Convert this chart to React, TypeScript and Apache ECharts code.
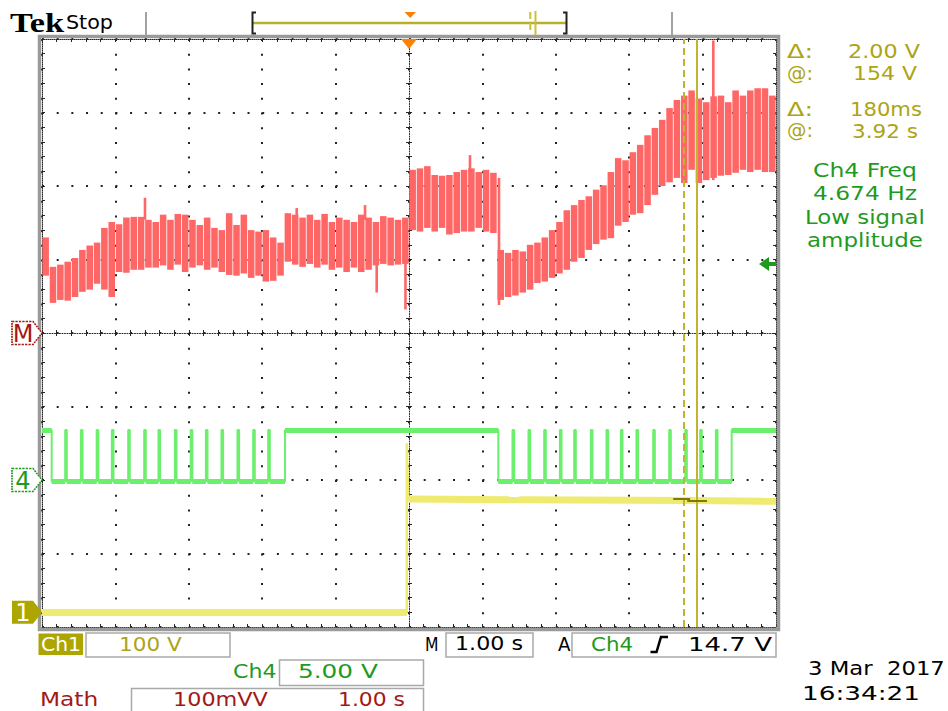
import React, { useEffect, useRef } from "react";
import * as echarts from "echarts";

// ---- acquisition settings ----
const TIME_MIN = -5; // s, 10 div x 1.00 s, trigger at 0
const TIME_MAX = 5;

// Math trace: min/max envelope per 0.1 s bin (100 mVV/div, ground at centre)
const MATH_BIN = 0.1;
const mathTop = [
  130, 90, 93, 97, 102, 113, 119, 123, 143, 151,
  148, 157, 158, 158, 154, 151, 161, 154, 162, 161,
  154, 147, 157, 143, 140, 163, 147, 161, 140, 138,
  140, 130, 123, 163, 161, 157, 161, 154, 162, 151,
  157, 154, 151, 161, 157, 151, 159, 157, 154, 157,
  222, 224, 227, 215, 214, 215, 219, 222, 224, 219,
  222, 218, 113, 109, 113, 111, 120, 123, 130, 140,
  151, 167, 174, 181, 186, 195, 201, 219, 238, 235,
  246, 256, 269, 279, 290, 306, 317, 323, 330, 319,
  314, 322, 323, 314, 330, 323, 330, 333, 333, 323,
];
const mathBottom = [
  78, 41, 45, 44, 49, 56, 59, 67, 59, 49,
  83, 82, 86, 86, 89, 89, 92, 86, 93, 83,
  89, 92, 86, 89, 83, 79, 78, 81, 75, 78,
  70, 71, 78, 97, 93, 90, 94, 89, 93, 86,
  89, 83, 89, 83, 86, 92, 94, 92, 93, 94,
  140, 138, 143, 138, 143, 134, 136, 138, 138, 143,
  138, 136, 45, 49, 51, 55, 59, 68, 70, 75,
  81, 86, 97, 102, 113, 121, 127, 129, 146, 151,
  161, 163, 174, 188, 200, 205, 211, 204, 222, 204,
  208, 211, 214, 215, 218, 222, 219, 222, 219, 219,
];
// narrow glitches on the math trace: [time s, low, high]
const mathGlitches = [
  [-3.597, 154, 184],
  [-1.53, 151, 170],
  [-0.599, 154, 174],
  [-0.44, 55, 93],
  [-0.048, 32, 150],
  [0.831, 219, 242],
  [1.226, 38, 211],
  [4.146, 208, 398],
];

// Ch4 logic signal (5.00 V/div)
const CH4_LOW = -0.1;
const CH4_HIGH = 3.4;
const ch4HighRuns = [
  [-5, -4.868],
  [-1.689, 1.217],
  [4.396, 5],
];
const ch4PulseCenters = [
  -4.673, -4.459, -4.244, -4.037, -3.815, -3.597, -3.402, -3.178, -2.963, -2.756,
  -2.544, -2.326, -2.112, -1.907,
  1.421, 1.639, 1.853, 2.067, 2.262, 2.489, 2.702, 2.898, 3.11, 3.338,
  3.556, 3.774, 3.978, 4.192,
];
const CH4_PULSE_WIDTH = 0.022;
const CH4_TRIGGER_LEVEL = 14.7; // V

// Ch1 (100 V/div)
const ch1Times = [-5, -0.03, -0.03, -0.01, 1.5, 3.9, 5];
const ch1Volts = [0, 0, 230, 154, 153, 152, 151];

// cursors
const cursorTimes = [3.74, 3.92]; // s, delta 180 ms
const cursorVolts = [154, 152]; // V, delta 2.00 V

// ---- screen layout ----
const GRID = { left: 42, top: 39, width: 734, height: 588 };
const DIV_X = GRID.width / 10;
const DIV_Y = GRID.height / 8;

const SANS = '"DejaVu Sans", sans-serif';
const F19 = `19px ${SANS}`;
const RED = "#ff6666";
const GREEN = "#6cef6c";
const YELLOW = "#efea70";
const CURSOR = "#bfb52e";
const OLIVE_TXT = "#ada415";
const GREEN_TXT = "#1f9a1f";
const MATH_TXT = "#a31818";
const CH1_FILL = "#ada600";
const BOX = "#a9a9a9";
const INK = "#262626";

let measureCtx: CanvasRenderingContext2D | null = null;
function textWidth(text: string, font: string) {
  if (!measureCtx) measureCtx = document.createElement("canvas").getContext("2d");
  if (!measureCtx) return text.length * 10;
  measureCtx.font = font;
  return measureCtx.measureText(text).width || 1;
}

// text stretched horizontally to span [left, right]
function fitText(text: string, left: number, right: number, cy: number, fill: string, font = F19) {
  const w = textWidth(text, font);
  return {
    type: "text",
    x: left,
    y: cy,
    scaleX: (right - left) / w,
    silent: true,
    z: 20,
    style: { text, fill, font, align: "left", verticalAlign: "middle" },
  };
}

function box(x: number, y: number, w: number, h: number) {
  return {
    type: "rect",
    silent: true,
    z: 19,
    shape: { x, y, width: w, height: h },
    style: { fill: "none", stroke: BOX, lineWidth: 1.5 },
  };
}

function vline(x: number, y1: number, y2: number, stroke: string, lineWidth = 2, lineDash?: number[]) {
  return {
    type: "line",
    silent: true,
    z: 19,
    shape: { x1: x, y1, x2: x, y2 },
    style: { stroke, lineWidth, lineDash },
  };
}

// square-wave polyline from the high intervals of Ch4
function buildCh4(): number[][] {
  const runs = [
    ...ch4HighRuns,
    ...ch4PulseCenters.map((c) => [c - CH4_PULSE_WIDTH / 2, c + CH4_PULSE_WIDTH / 2]),
  ].sort((a, b) => a[0] - b[0]);
  const pts: number[][] = [];
  let t = TIME_MIN;
  for (const [a, b] of runs) {
    if (a > t) {
      pts.push([t, CH4_LOW], [a, CH4_LOW]);
    }
    pts.push([a, CH4_HIGH], [b, CH4_HIGH]);
    if (b < TIME_MAX) pts.push([b, CH4_LOW]);
    t = b;
  }
  if (t < TIME_MAX) pts.push([t, CH4_LOW], [TIME_MAX, CH4_LOW]);
  return pts;
}

// the settled parts of a trace carry visible noise, drawn as a wider band
function flatRuns(points: number[][], minDur: number) {
  const segs: { coords: number[][] }[] = [];
  for (let i = 1; i < points.length; i++) {
    const [t0, v0] = points[i - 1];
    const [t1, v1] = points[i];
    if (t1 - t0 > minDur) segs.push({ coords: [[t0, v0], [t1, v1]] });
  }
  return segs;
}

function tag(text: string, color: string, filled: boolean) {
  return {
    coord: [TIME_MIN, 0],
    symbol: "path://M0,0 L21,0 L30,11.5 L21,23 L0,23 Z",
    symbolSize: [30, 23],
    symbolOffset: [-15, 0],
    itemStyle: {
      color: filled ? color : "#fff",
      borderColor: color,
      borderWidth: filled ? 0 : 1.5,
      borderType: [2, 1],
    },
    label: {
      show: true,
      position: "inside",
      formatter: text,
      color: filled ? "#fff" : color,
      fontSize: 24,
      fontFamily: SANS,
      offset: [-4, 1],
    },
  };
}

function timeAxis(position: string, inside: boolean, opts: any = {}) {
  return {
    type: "value",
    min: TIME_MIN,
    max: TIME_MAX,
    interval: 1,
    position,
    axisLine: {
      show: true,
      onZero: false,
      lineStyle: { color: INK, width: 1, type: [1, 1] },
    },
    axisTick: { show: true, inside, length: 3, lineStyle: { color: INK, width: 1 } },
    minorTick: { show: true, splitNumber: 5, length: 3, lineStyle: { color: INK, width: 1 } },
    axisLabel: { show: false },
    splitLine: { show: false },
    ...opts,
  };
}

function divAxis(position: string, inside: boolean, opts: any = {}) {
  return {
    type: "value",
    min: -4,
    max: 4,
    interval: 1,
    position,
    axisLine: {
      show: true,
      onZero: false,
      lineStyle: { color: INK, width: 1, type: [1, 1] },
    },
    axisTick: { show: true, inside, length: 3, lineStyle: { color: INK, width: 1 } },
    minorTick: { show: true, splitNumber: 5, length: 3, lineStyle: { color: INK, width: 1 } },
    axisLabel: { show: false },
    splitLine: { show: false },
    ...opts,
  };
}

function buildOption() {
  const mathData = mathTop.map((top, i) => [TIME_MIN + MATH_BIN * (i + 0.5), mathBottom[i], top]);
  const ch4Points = buildCh4();
  const ch1Points = ch1Times.map((t, i) => [t, ch1Volts[i]]);

  const dotAlongX = [2, DIV_X / 5 - 2];
  const dotAlongY = [2, DIV_Y / 5 - 2];

  const graphic: any[] = [
    // graticule frame
    {
      type: "rect",
      silent: true,
      z: 1,
      shape: { x: GRID.left - 2.5, y: GRID.top - 2.5, width: GRID.width + 5, height: GRID.height + 5 },
      style: { fill: "none", stroke: "#9a9a9a", lineWidth: 3.5 },
    },
    // header
    fitText("Tek", 10, 64, 22.5, "#000", `bold 28px "Liberation Serif", serif`),
    fitText("Stop", 66, 113, 22.5, "#000", `20px ${SANS}`),
    vline(146, 12, 35, "#a2a2a2", 2),
    vline(672, 12, 35, "#a2a2a2", 2),
    // record view bar
    {
      type: "line",
      silent: true,
      z: 19,
      shape: { x1: 253, y1: 23, x2: 566, y2: 23 },
      style: { stroke: "#b8b02a", lineWidth: 2.5 },
    },
    {
      type: "polyline",
      silent: true,
      z: 20,
      shape: { points: [[256, 12.5], [252.5, 12.5], [252.5, 33.5], [256, 33.5]] },
      style: { stroke: "#222", lineWidth: 2, fill: "none" },
    },
    {
      type: "polyline",
      silent: true,
      z: 20,
      shape: { points: [[563, 12.5], [566.5, 12.5], [566.5, 33.5], [563, 33.5]] },
      style: { stroke: "#222", lineWidth: 2, fill: "none" },
    },
    {
      type: "polygon",
      silent: true,
      z: 20,
      shape: { points: [[404.5, 12], [416, 12], [410.2, 18]] },
      style: { fill: "#ff7f00" },
    },
    vline(530.3, 12, 34, "#c8c040", 2, [7, 4]),
    vline(535.5, 11, 35, "#c8c040", 2),
    // cursor / measurement readouts
    fitText("Δ:", 787, 813, 51.7, OLIVE_TXT),
    fitText("2.00 V", 848, 920, 51.7, OLIVE_TXT),
    fitText("@:", 787, 813, 73.3, OLIVE_TXT),
    fitText("154 V", 853, 917, 73.3, OLIVE_TXT),
    fitText("Δ:", 787, 813, 109.5, OLIVE_TXT),
    fitText("180ms", 850, 922, 109.5, OLIVE_TXT),
    fitText("@:", 787, 813, 131, OLIVE_TXT),
    fitText("3.92 s", 852, 918, 131, OLIVE_TXT),
    fitText("Ch4 Freq", 813, 917, 170.5, GREEN_TXT),
    fitText("4.674 Hz", 813, 917, 193.8, GREEN_TXT),
    fitText("Low signal", 805, 925, 217.2, GREEN_TXT),
    fitText("amplitude", 807, 923, 240.3, GREEN_TXT),
    // status line
    {
      type: "rect",
      silent: true,
      z: 19,
      shape: { x: 38.5, y: 633.5, width: 44.5, height: 21.5 },
      style: { fill: CH1_FILL },
    },
    fitText("Ch1", 41, 81, 644.5, "#fff"),
    box(86, 633, 144, 24),
    fitText("100 V", 119, 181.7, 644.5, OLIVE_TXT),
    fitText("M", 425, 438.5, 644, "#000"),
    box(446, 633, 87, 24),
    fitText("1.00 s", 455, 523, 644, "#000"),
    fitText("A", 558, 570.5, 644, "#000"),
    box(572, 633, 204, 24),
    fitText("Ch4", 591, 633, 644, GREEN_TXT),
    {
      type: "polyline",
      silent: true,
      z: 20,
      shape: { points: [[650.5, 652], [656.5, 652], [661, 637], [668, 637]] },
      style: { stroke: "#000", lineWidth: 2.5, fill: "none" },
    },
    fitText("14.7 V", 688, 772, 644, "#000"),
    fitText("Ch4", 233, 276.5, 671.5, GREEN_TXT),
    box(279.5, 660, 144, 25.5),
    fitText("5.00 V", 298, 378, 672, GREEN_TXT),
    fitText("Math", 40, 98.3, 699, MATH_TXT),
    box(131.5, 688.5, 292, 24),
    fitText("100mVV", 173, 268, 699.5, MATH_TXT),
    fitText("1.00 s", 338, 405, 699.5, MATH_TXT),
    fitText("3 Mar  2017", 808, 945, 668.3, "#000"),
    fitText("16:34:21", 802, 920, 693.3, "#000"),
  ];

  return {
    animation: false,
    backgroundColor: "#ffffff",
    grid: { ...GRID, containLabel: false, show: false },
    xAxis: [
      // 0: bottom border + vertical graticule lines
      timeAxis("bottom", true, {
        splitLine: { show: true, lineStyle: { color: "#222", width: 2, type: dotAlongY } },
      }),
      // 1: top border
      timeAxis("top", true),
      // 2, 3: horizontal centre line with ticks on both sides
      timeAxis("bottom", true, {
        axisLine: { show: true, onZero: true, onZeroAxisIndex: 0, lineStyle: { color: INK, width: 1, type: [1, 1.5] } },
      }),
      timeAxis("bottom", false, {
        axisLine: { show: false, onZero: true, onZeroAxisIndex: 0 },
      }),
    ],
    yAxis: [
      // 0: vertical centre line + horizontal graticule lines
      divAxis("left", true, {
        axisLine: { show: true, onZero: true, onZeroAxisIndex: 0, lineStyle: { color: INK, width: 1, type: [1, 1.5] } },
        splitLine: { show: true, lineStyle: { color: "#222", width: 2, type: dotAlongX } },
      }),
      // 1: other side of the centre ticks
      divAxis("left", false, { axisLine: { show: false, onZero: true, onZeroAxisIndex: 0 } }),
      // 2, 3: left and right borders
      divAxis("left", true),
      divAxis("right", true),
      // 4: Ch1, 100 V/div
      { type: "value", show: false, min: -20, max: 780 },
      // 5: Ch4, 5.00 V/div
      { type: "value", show: false, min: -10, max: 30 },
      // 6: Math, 100 mVV/div
      { type: "value", show: false, min: -400, max: 400 },
    ],
    graphic,
    series: [
      {
        name: "Math",
        type: "custom",
        xAxisIndex: 0,
        yAxisIndex: 6,
        clip: true,
        z: 3,
        silent: true,
        encode: { x: 0, y: [1, 2] },
        data: mathData,
        renderItem: (_params: any, api: any) => {
          const t = api.value(0);
          const lo = api.coord([t, api.value(1)]);
          const hi = api.coord([t, api.value(2)]);
          const w = api.size([MATH_BIN, 0])[0];
          return {
            type: "rect",
            shape: { x: lo[0] - w / 2 + 0.4, y: hi[1], width: Math.max(w - 0.8, 1), height: lo[1] - hi[1] },
            style: { fill: RED },
          };
        },
        markPoint: {
          silent: true,
          animation: false,
          data: [
            tag("M", MATH_TXT, false),
            {
              coord: [0, 400],
              symbol: "path://M0,0 L16,0 L8,10 Z",
              symbolSize: [16, 10],
              symbolOffset: [0, 5],
              itemStyle: { color: "#ff7f00" },
              label: { show: false },
            },
          ],
        },
      },
      {
        name: "Math glitches",
        type: "custom",
        xAxisIndex: 0,
        yAxisIndex: 6,
        clip: true,
        z: 3,
        silent: true,
        encode: { x: 0, y: [1, 2] },
        data: mathGlitches,
        renderItem: (_params: any, api: any) => {
          const t = api.value(0);
          const lo = api.coord([t, api.value(1)]);
          const hi = api.coord([t, api.value(2)]);
          return {
            type: "rect",
            shape: { x: lo[0] - 1.3, y: hi[1], width: 2.6, height: lo[1] - hi[1] },
            style: { fill: RED },
          };
        },
      },
      {
        name: "Ch4 band",
        type: "lines",
        coordinateSystem: "cartesian2d",
        xAxisIndex: 0,
        yAxisIndex: 5,
        z: 3,
        silent: true,
        polyline: false,
        lineStyle: { color: GREEN, width: 5, opacity: 1 },
        data: flatRuns(ch4Points, 0.03),
      },
      {
        name: "Ch4",
        type: "line",
        xAxisIndex: 0,
        yAxisIndex: 5,
        z: 4,
        silent: true,
        showSymbol: false,
        symbol: "none",
        lineStyle: { color: GREEN, width: 2 },
        data: ch4Points,
        markPoint: {
          silent: true,
          animation: false,
          data: [
            tag("4", GREEN_TXT, false),
            {
              coord: [TIME_MAX, CH4_TRIGGER_LEVEL],
              symbol: "path://M0,7 L10,0 L10,5 L17,5 L17,9 L10,9 L10,14 Z",
              symbolSize: [17, 14],
              symbolOffset: [-8.5, 0],
              itemStyle: { color: GREEN_TXT },
              label: { show: false },
            },
          ],
        },
      },
      {
        name: "Ch1 band",
        type: "lines",
        coordinateSystem: "cartesian2d",
        xAxisIndex: 0,
        yAxisIndex: 4,
        z: 3,
        silent: true,
        polyline: false,
        lineStyle: { color: YELLOW, width: 7, opacity: 1 },
        data: flatRuns(ch1Points, 0.03),
      },
      {
        name: "Ch1",
        type: "line",
        xAxisIndex: 0,
        yAxisIndex: 4,
        z: 4,
        silent: true,
        showSymbol: false,
        symbol: "none",
        lineStyle: { color: YELLOW, width: 2.5 },
        data: ch1Points,
        markPoint: {
          silent: true,
          animation: false,
          data: [tag("1", CH1_FILL, true)],
        },
        markLine: {
          silent: true,
          animation: false,
          symbol: ["none", "none"],
          label: { show: false },
          emphasis: { disabled: true },
          data: [
            { xAxis: cursorTimes[0], lineStyle: { color: CURSOR, width: 2, type: [7, 4] } },
            { xAxis: cursorTimes[1], lineStyle: { color: CURSOR, width: 2, type: "solid" } },
            [
              { coord: [3.6, cursorVolts[0]], lineStyle: { color: "#7f7a08", width: 2, type: "solid" } },
              { coord: [3.83, cursorVolts[0]] },
            ],
            [
              { coord: [3.79, cursorVolts[1]], lineStyle: { color: "#7f7a08", width: 2, type: "solid" } },
              { coord: [4.06, cursorVolts[1]] },
            ],
          ],
        },
      },
    ],
  };
}

export default function App() {
  const ref = useRef<HTMLDivElement>(null);
  useEffect(() => {
    const el = ref.current;
    if (!el) return;
    const chart = echarts.init(el, undefined, { renderer: "svg" });
    chart.setOption(buildOption() as any);
    return () => chart.dispose();
  }, []);
  return (
    <div
      ref={ref}
      style={{ position: "fixed", left: 0, top: 0, width: 948, height: 711, background: "#fff" }}
    />
  );
}
